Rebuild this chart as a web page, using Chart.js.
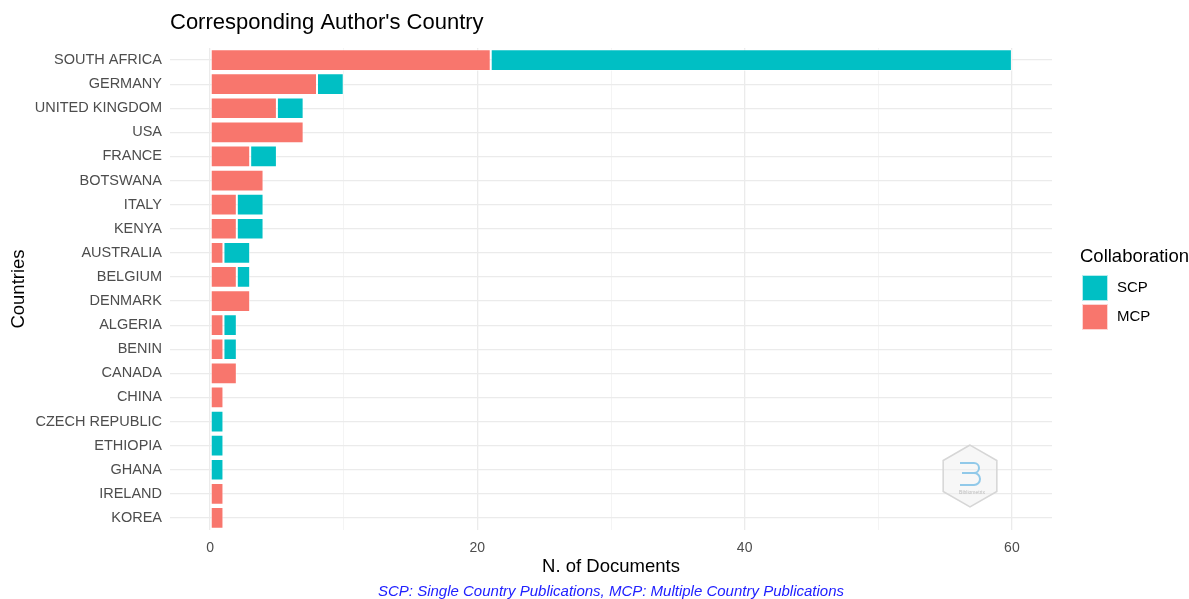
<!DOCTYPE html>
<html>
<head>
<meta charset="utf-8">
<script src="https://cdn.jsdelivr.net/npm/chart.js@4"></script>
<style>
html,body{margin:0;padding:0;background:#fff;}
#wrap{width:1189px;height:599px;position:relative;}
</style>
</head>
<body>
<div id="wrap"><canvas id="c" width="1189" height="599"></canvas></div>
<script>
const countries = ["SOUTH AFRICA","GERMANY","UNITED KINGDOM","USA","FRANCE","BOTSWANA","ITALY","KENYA","AUSTRALIA","BELGIUM","DENMARK","ALGERIA","BENIN","CANADA","CHINA","CZECH REPUBLIC","ETHIOPIA","GHANA","IRELAND","KOREA"];
const mcpValues = [21,8,5,7,3,4,2,2,1,2,3,1,1,2,1,0,0,0,1,1];
const scpValues = [39,2,2,0,2,0,2,2,2,1,0,1,1,0,0,1,1,1,0,0];
const xTickValues = [0,10,20,30,40,50,60];
const xTickLabels = ["0","","20","","40","","60"];
const titleText = "Corresponding Author's Country";
const xTitle = "N. of Documents";
const yTitle = "Countries";
const legendTitle = "Collaboration";
const legendLabels = ["SCP","MCP"];
const captionText = "SCP: Single Country Publications, MCP: Multiple Country Publications";

const FONT = "'Liberation Sans', Arial, sans-serif";
const MCP_COLOR = "#F8766D";
const SCP_COLOR = "#00BFC4";

const decor = {
  id: 'decor',
  afterDraw(chart) {
    const ctx = chart.ctx;
    const a = chart.chartArea;
    ctx.save();
    // title
    ctx.fillStyle = '#000';
    ctx.font = '22px ' + FONT;
    ctx.textAlign = 'left';
    ctx.textBaseline = 'middle';
    ctx.fillText(titleText, a.left, 23);
    // legend
    ctx.font = '18.5px ' + FONT;
    ctx.fillText(legendTitle, 1080, 257);
    const cols = [SCP_COLOR, MCP_COLOR];
    for (let i = 0; i < 2; i++) {
      const y = 275 + i * 29;
      ctx.fillStyle = cols[i];
      ctx.fillRect(1082, y, 26, 26);
      ctx.strokeStyle = 'rgba(255,255,255,0.7)';
      ctx.lineWidth = 1;
      ctx.strokeRect(1082.5, y + 0.5, 25, 25);
      ctx.fillStyle = '#000';
      ctx.font = '15px ' + FONT;
      ctx.fillText(legendLabels[i], 1117, y + 13);
    }
    // caption
    ctx.fillStyle = '#2020FF';
    ctx.font = 'italic 15px ' + FONT;
    ctx.textAlign = 'center';
    ctx.fillText(captionText, (a.left + a.right) / 2, 592);
    // watermark hexagon
    const cx = 970, cy = 476, r = 31;
    ctx.beginPath();
    for (let k = 0; k < 6; k++) {
      const ang = Math.PI / 2 + k * Math.PI / 3;
      const px = cx + r * Math.cos(ang), py = cy - r * Math.sin(ang);
      if (k === 0) ctx.moveTo(px, py); else ctx.lineTo(px, py);
    }
    ctx.closePath();
    ctx.fillStyle = 'rgba(240,240,240,0.5)';
    ctx.fill();
    ctx.strokeStyle = '#D6D6D6';
    ctx.lineWidth = 1.5;
    ctx.stroke();
    ctx.strokeStyle = 'rgba(120,190,230,0.8)';
    ctx.lineWidth = 2;
    ctx.beginPath();
    ctx.moveTo(960, 463); ctx.lineTo(974, 463);
    ctx.arc(974, 468, 5, -Math.PI/2, Math.PI/2);
    ctx.lineTo(962, 473);
    ctx.moveTo(974, 473);
    ctx.arc(974, 479, 6, -Math.PI/2, Math.PI/2);
    ctx.lineTo(960, 485);
    ctx.stroke();
    ctx.fillStyle = 'rgba(150,150,150,0.6)';
    ctx.font = '5px ' + FONT;
    ctx.fillText('Bibliometrix', 972, 493);
    ctx.restore();
  }
};

new Chart(document.getElementById('c'), {
  type: 'bar',
  data: {
    labels: countries,
    datasets: [
      {
        label: 'MCP',
        data: mcpValues.map(v => v || null),
        backgroundColor: MCP_COLOR,
        borderColor: 'rgba(255,255,255,0.6)',
        borderWidth: 1,
        borderSkipped: false,
        barPercentage: 0.9,
        categoryPercentage: 1.0
      },
      {
        label: 'SCP',
        data: scpValues.map(v => v || null),
        backgroundColor: SCP_COLOR,
        borderColor: 'rgba(255,255,255,0.6)',
        borderWidth: 1,
        borderSkipped: false,
        barPercentage: 0.9,
        categoryPercentage: 1.0
      }
    ]
  },
  options: {
    indexAxis: 'y',
    responsive: false,
    animation: false,
    devicePixelRatio: 1,
    layout: { padding: { left: 0, right: 137, top: 48, bottom: 21 } },
    plugins: {
      legend: { display: false },
      title: { display: false },
      tooltip: { enabled: false }
    },
    scales: {
      x: {
        stacked: true,
        min: -3,
        max: 63,
        afterBuildTicks: (scale) => { scale.ticks = xTickValues.map(v => ({ value: v })); },
        afterFit: (scale) => { scale.height = 48; },
        border: { display: false },
        grid: {
          drawTicks: false,
          color: (c) => (c.tick && c.tick.value % 20 === 0) ? '#EBEBEB' : '#F4F4F4',
          lineWidth: (c) => (c.tick && c.tick.value % 20 === 0) ? 1.3 : 1
        },
        ticks: {
          padding: 10,
          color: '#4D4D4D',
          font: { family: FONT, size: 14 },
          autoSkip: false,
          maxRotation: 0,
          callback: (v, i) => xTickLabels[i]
        },
        title: {
          display: true,
          text: xTitle,
          color: '#000',
          font: { family: FONT, size: 18.5 },
          padding: { top: 0, bottom: 0 }
        }
      },
      y: {
        stacked: true,
        afterFit: (scale) => { scale.width = 170; },
        border: { display: false },
        grid: { drawTicks: false, offset: false, color: '#EBEBEB', lineWidth: 1.3 },
        ticks: {
          padding: 8,
          color: '#4D4D4D',
          font: { family: FONT, size: 14.5 },
          autoSkip: false
        },
        title: {
          display: true,
          text: yTitle,
          color: '#000',
          font: { family: FONT, size: 18.5 },
          padding: { top: 8, bottom: 0 }
        }
      }
    }
  },
  plugins: [decor]
});
</script>
</body>
</html>
